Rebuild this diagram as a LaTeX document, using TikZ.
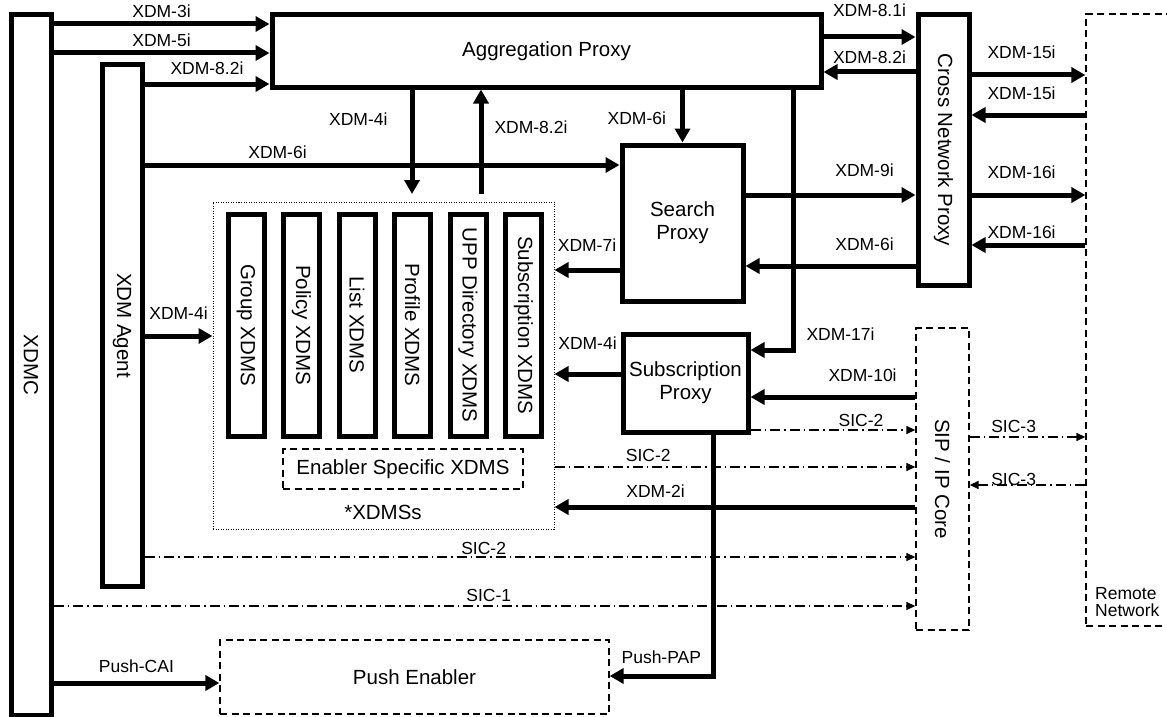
\documentclass[tikz,border=0pt]{standalone}
\usepackage{fontspec}
\usepackage{graphicx}
\setmainfont{Liberation Sans}
\usetikzlibrary{arrows.meta}

\begin{document}
\begin{tikzpicture}[x=1pt,y=-1pt,
  box/.style={draw,line width=5pt,inner sep=0pt,align=center,font=\fontsize{20.5}{23}\selectfont},
  dbox/.style={draw,line width=1.3pt,dash pattern=on 7pt off 4.5pt,inner sep=0pt,align=center,font=\fontsize{20.5}{23}\selectfont},
  conn/.style={line width=5pt,-{Triangle[length=14pt,width=15pt]}},
  sic/.style={line width=1.3pt,dash pattern=on 10pt off 4pt on 1.5pt off 4pt,-{Triangle[length=9pt,width=8pt]}},
  lbl/.style={font=\fontsize{17.5}{17.5}\selectfont,inner sep=0pt}]
\useasboundingbox (0,0) rectangle (1167,717);

% blocks
\node[box,minimum width=40pt,minimum height=700pt] (xdmc) at (31,365) {\rotatebox{-90}{XDMC}};
\node[box,minimum width=40pt,minimum height=521pt] (agent) at (122,325.5) {\rotatebox{-90}{XDM Agent}};
\node[box,minimum width=549pt,minimum height=72pt] (agg) at (546.5,51) {Aggregation Proxy};
\node[box,minimum width=51pt,minimum height=270pt] (cnp) at (943.5,150) {\rotatebox{-90}{Cross Network Proxy}};
\node[box,minimum width=121pt,minimum height=156pt] (search) at (682.5,223) {Search\\Proxy};
\node[box,minimum width=125pt,minimum height=98pt] (subp) at (685.5,383) {Subscription\\Proxy};
\node[dbox,minimum width=53pt,minimum height=302pt] (sip) at (942.5,479) {\rotatebox{-90}{SIP / IP Core}};
\node[dbox,minimum width=94pt,minimum height=612pt] (remote) at (1133,320) {};
\node[lbl,anchor=south west,align=left] (remlbl) at (1095,617) {Remote\\Network};

% XDMSs
\node[draw,line width=1pt,dash pattern=on 1pt off 1.5pt,minimum width=341pt,minimum height=327pt] (xdmss) at (383.5,365.5) {};
\node[font=\fontsize{20.5}{23}\selectfont,inner sep=0pt] (xdmslbl) at (383,512) {*XDMSs};
\foreach \x/\name/\txt in {246/grp/Group XDMS,301.5/pol/Policy XDMS,357/lst/List XDMS,412.5/prf/Profile XDMS,468/upp/UPP Directory XDMS,523.5/sxd/Subscription XDMS}
  \node[box,minimum width=36pt,minimum height=222pt] (\name) at (\x,325) {\rotatebox{-90}{\txt}};
\node[dbox,minimum width=240pt,minimum height=40pt] (esx) at (403,469) {Enabler Specific XDMS};
\node[dbox,minimum width=389pt,minimum height=74pt] (push) at (414.5,677) {Push Enabler};

\coordinate (in4) at (412,194);
\coordinate (out82) at (481,194);

% clients to proxies
\draw[conn] (xdmc.east |- 0,24) -- (agg.west |- 0,24) node[lbl,midway,above=3.5pt] {XDM-3i};
\draw[conn] (xdmc.east |- 0,53) -- (agg.west |- 0,53) node[lbl,midway,above=3.5pt] {XDM-5i};
\draw[conn] (agent.east |- 0,84) -- (agg.west |- 0,84) node[lbl,midway,above=6.5pt] {XDM-8.2i};
\draw[conn] (agent.east |- 0,165) -- (search.west |- 0,165) node[lbl,pos=0.28,above=3.5pt] {XDM-6i};
\draw[conn] (agent.east |- 0,336) -- (xdmss.west |- 0,336) node[lbl,midway,above=14.5pt] {XDM-4i};

% aggregation proxy
\draw[conn] (agg.south -| in4) -- (in4) node[lbl,pos=0.28,left=22pt] {XDM-4i};
\draw[conn] (out82) -- (agg.south -| out82) node[lbl,pos=0.64,right=11pt] {XDM-8.2i};
\draw[conn] (agg.south -| search.north) -- (search.north) node[lbl,pos=0.54,left=14pt] {XDM-6i};
\draw[conn] (agg.east |- 0,37) -- (cnp.west |- 0,37) node[lbl,midway,above=17.5pt] {XDM-8.1i};
\draw[conn] (cnp.west |- 0,72) -- (agg.east |- 0,72) node[lbl,midway,above=5.5pt] {XDM-8.2i};
\draw[conn] (agg.south -| 793,0) |- (subp.east |- 0,350) node[lbl,pos=0.47,right=11pt] {XDM-17i};

% cross network proxy
\draw[conn] (cnp.east |- 0,75) -- (remote.west |- 0,75) node[lbl,pos=0.44,above=13.5pt] {XDM-15i};
\draw[conn] (remote.west |- 0,115) -- (cnp.east |- 0,115) node[lbl,pos=0.56,above=12.5pt] {XDM-15i};
\draw[conn] (cnp.east |- 0,195) -- (remote.west |- 0,195) node[lbl,pos=0.44,above=13.5pt] {XDM-16i};
\draw[conn] (remote.west |- 0,245) -- (cnp.east |- 0,245) node[lbl,pos=0.56,above=3.5pt] {XDM-16i};
\draw[conn] (search.east |- 0,195) -- (cnp.west |- 0,195) node[lbl,pos=0.7,above=15.5pt] {XDM-9i};
\draw[conn] (cnp.west |- 0,266) -- (search.east |- 0,266) node[lbl,pos=0.3,above=12.5pt] {XDM-6i};

% search and subscription proxy
\draw[conn] (search.west |- 0,270) -- (xdmss.east |- 0,270) node[lbl,midway,above=16.5pt] {XDM-7i};
\draw[conn] (subp.west |- 0,374) -- (xdmss.east |- 0,374) node[lbl,midway,above=22.5pt] {XDM-4i};
\draw[conn] (sip.west |- 0,397) -- (subp.east |- 0,397) node[lbl,pos=0.32,above=12.5pt] {XDM-10i};
\draw[conn] (sip.west |- 0,507) -- (xdmss.east |- 0,507) node[lbl,pos=0.72,above=7.5pt] {XDM-2i};
\draw[conn] (subp.south -| 713,0) |- (push.east |- 0,676) node[lbl,pos=0.75,above=9.5pt] {Push-PAP};
\draw[conn] (xdmc.east |- 0,683) -- (push.west |- 0,683) node[lbl,midway,above=7.5pt] {Push-CAI};

% SIC
\draw[sic] (subp.east |- 0,430) -- (sip.west |- 0,430) node[lbl,pos=0.67,above=2.5pt] {SIC-2};
\draw[sic] (xdmss.east |- 0,467) -- (sip.west |- 0,467) node[lbl,pos=0.26,above=4.5pt] {SIC-2};
\draw[sic] (agent.east |- 0,557) -- (sip.west |- 0,557) node[lbl,pos=0.44,above=1.5pt] {SIC-2};
\draw[sic] (xdmc.east |- 0,606) -- (sip.west |- 0,606) node[lbl,pos=0.505,above=3.5pt] {SIC-1};
\draw[sic] (sip.east |- 0,437) -- (remote.west |- 0,437) node[lbl,pos=0.38,above=3.5pt] {SIC-3};
\draw[sic] (remote.west |- 0,485) -- (sip.east |- 0,485) node[lbl,pos=0.62,above=-1pt] {SIC-3};
\end{tikzpicture}
\end{document}
